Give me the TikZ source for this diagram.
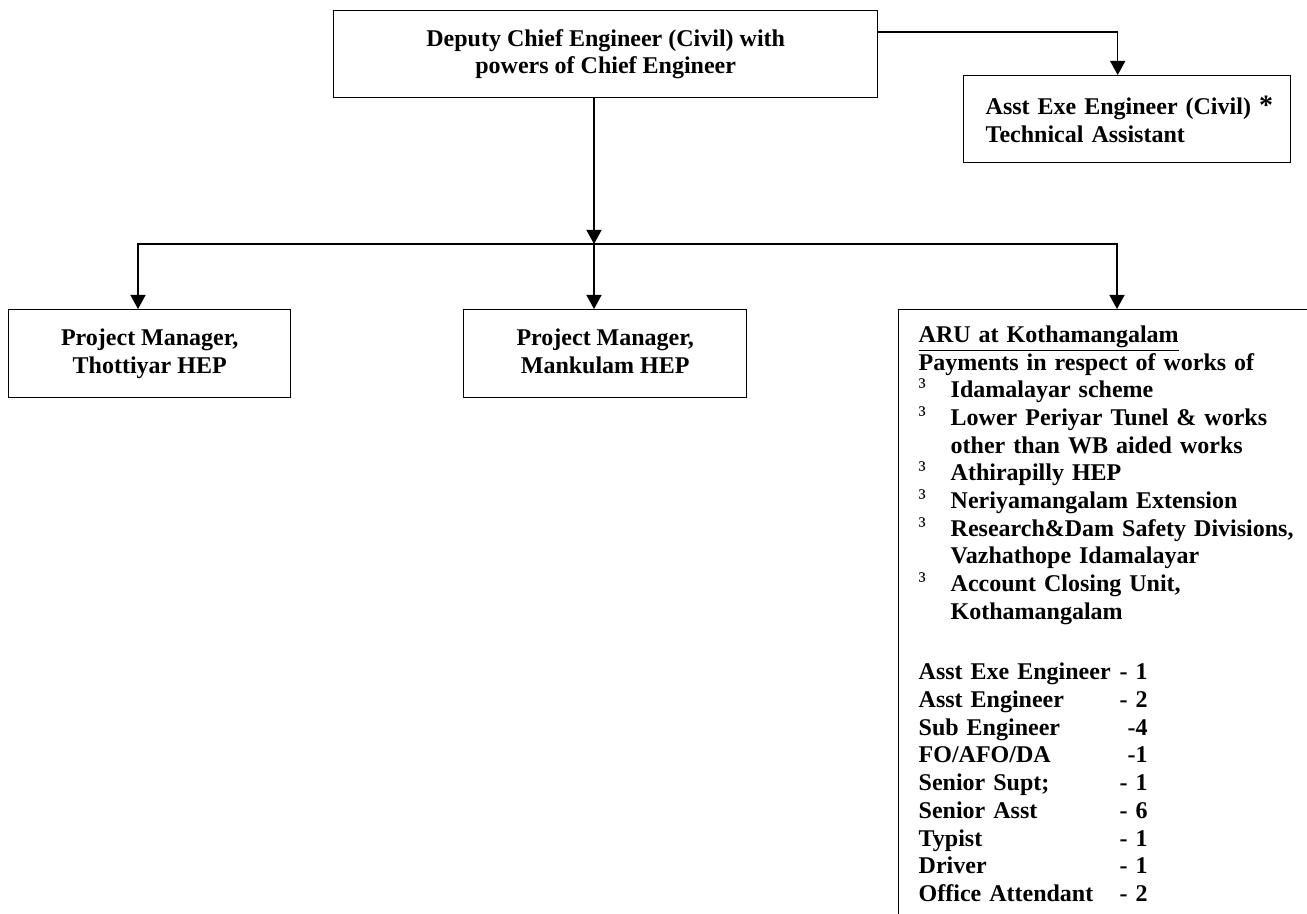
\documentclass[tikz,border=0pt]{standalone}
\usepackage{fontspec}
\setmainfont{Liberation Serif}
\usepackage{tikz}
\usetikzlibrary{arrows.meta,positioning}
\tikzset{
  boxC/.style={ draw, rectangle, align=center, inner sep=0pt, font=\fontsize{12}{13.85}\selectfont\bfseries }
}
\tikzset{
  boxL/.style={ draw, rectangle, align=left, inner xsep=11pt, inner ysep=0pt, font=\fontsize{12}{13.85}\selectfont\bfseries }
}
\tikzset{
  boxARU/.style={ draw, rectangle, anchor=north west, align=left, text width=300pt, inner xsep=10pt, inner ysep=8pt, font=\fontsize{12}{13.85}\selectfont\bfseries }
}
\newcommand{\arubul}{\makebox[16pt][l]{\raisebox{1.5pt}{\mdseries ³}}}
\newcommand{\arustaff}[2]{\makebox[114.5pt][l]{#1\hfill#2}}

\begin{document}
\begin{tikzpicture}[x=0.5pt, y=-0.5pt, line width=0.7pt, >={Triangle[width=7.5pt,length=7pt]}]
      \useasboundingbox (0,0) rectangle (1307,914);
      \clip (0,0) rectangle (1307,914);
      \node[boxC, minimum width=272pt, minimum height=43.5pt, anchor=north west] (dce) at (333,10) {Deputy Chief Engineer (Civil) with\\ powers of Chief Engineer};
      \node[boxL, text width=141.5pt, minimum height=43.5pt, anchor=north west] (aee) at (963,75) {\mbox{Asst Exe Engineer (Civil) {\fontsize{14}{14}\selectfont *}}\\ Technical Assistant};
      \node[boxC, minimum width=141pt, minimum height=44pt, anchor=north west] (pmt) at (8,309) {Project Manager,\\ Thottiyar HEP\\[-11pt]};
      \node[boxC, minimum width=141.5pt, minimum height=44pt, anchor=north west] (pmk) at (463,309) {Project Manager,\\ Mankulam HEP\\[-11pt]};
      \node[boxARU] (aru) at (898,309) {\underline{ARU at Kothamangalam}\\
        Payments in respect of works of\\
        \arubul Idamalayar scheme\\
        \arubul Lower Periyar Tunel \& works\\
        \hspace*{16pt}other than WB aided works\\
        \arubul Athirapilly HEP\\
        \arubul Neriyamangalam Extension\\
        \arubul Research\&Dam Safety Divisions,\\
        \hspace*{16pt}Vazhathope Idamalayar\\
        \arubul Account Closing Unit,\\
        \hspace*{16pt}Kothamangalam\\[16.4pt]
        \arustaff{Asst Exe Engineer}{- 1}\\
        \arustaff{Asst Engineer}{- 2}\\
        \arustaff{Sub Engineer}{-4}\\
        \arustaff{FO/AFO/DA}{-1}\\
        \arustaff{Senior Supt;}{- 1}\\
        \arustaff{Senior Asst}{- 6}\\
        \arustaff{Typist}{- 1}\\
        \arustaff{Driver}{- 1}\\
        \arustaff{Office Attendant}{- 2}\\[20pt]
        ~};
      \coordinate (bus) at (594,244);
      \coordinate (busL) at (138,244);
      \coordinate (busR) at (1117,244);
      \draw[->] ([yshift=-11pt]dce.north east) -| ([xshift=-4.75pt]aee.north);
      \draw[->] (bus |- dce.south) -- (bus);
      \draw[->] (bus) -- (busL) -- (busL |- pmt.north);
      \draw[->] (bus) -- (bus |- pmk.north);
      \draw[->] (bus) -- (busR) -- (busR |- aru.north);
    \end{tikzpicture}
\end{document}
